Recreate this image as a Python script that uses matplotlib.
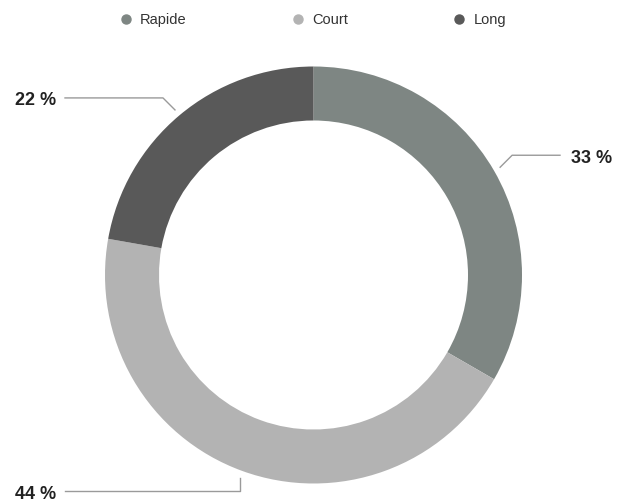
import numpy as np
import matplotlib.pyplot as plt
from matplotlib.lines import Line2D

plt.rcParams['font.family'] = ['Liberation Sans', 'DejaVu Sans']

labels = ['Rapide', 'Court', 'Long']
values = [3, 4, 2]
colors = ['#7e8683', '#b3b3b3', '#595959']
pct_labels = ['33 %', '44 %', '22 %']

W, H = 625, 504
cx, cy = 313.5, H - 275
R = 208.5
ring = 54

fig = plt.figure(figsize=(6.25, 5.04), dpi=100)
ax = fig.add_axes([0, 0, 1, 1])

wedges, _ = ax.pie(values, colors=colors, startangle=90, counterclock=False,
                   radius=R, center=(cx, cy), frame=True,
                   wedgeprops=dict(width=ring, linewidth=0))
ax.set_xlim(0, W)
ax.set_ylim(0, H)
ax.set_aspect('equal')
ax.axis('off')

# leader lines: (elbow dx, elbow dy, end x, text x, ha)
layout = [
    (12, 12, 560, 571, 'left'),
    (0, -13.5, 65, 56, 'right'),
    (-12, 12, 65, 56, 'right'),
]
for w, txt, (edx, edy, ex, tx, ha) in zip(wedges, pct_labels, layout):
    mid = np.deg2rad((w.theta1 + w.theta2) / 2)
    ax0 = cx + (R + 7) * np.cos(mid)
    ay0 = cy + (R + 7) * np.sin(mid)
    bx, by = ax0 + edx, ay0 + edy
    ax.plot([ax0, bx, ex], [ay0, by, by], color='#9a9a9a', lw=1)
    ax.text(tx, by - 3, txt, ha=ha, va='center', fontsize=13,
            fontweight='bold', color='#222222')

handles = [Line2D([], [], marker='o', ls='', color=c, markersize=6.5) for c in colors]
fig.legend(handles, labels, loc='center', bbox_to_anchor=(313 / W, 1 - 20 / H),
           ncol=3, frameon=False, fontsize=10.5, columnspacing=7.2,
           handlelength=0.8, handletextpad=0.6, labelcolor='#333333')

fig.savefig('out.png', dpi=100)
